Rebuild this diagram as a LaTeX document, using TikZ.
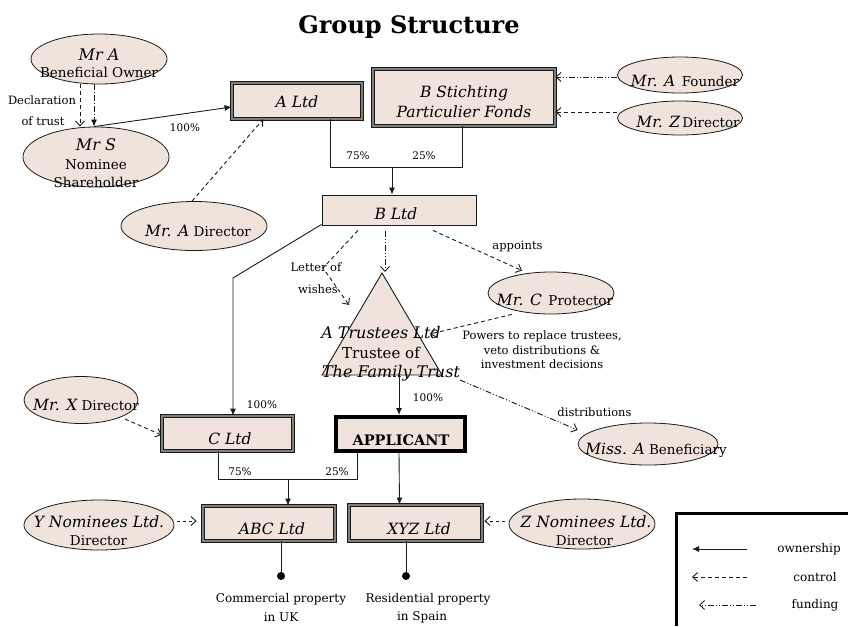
\documentclass[tikz,border=0pt]{standalone}
\usepackage{fontspec}
\setmainfont{DejaVu Serif}
\usetikzlibrary{shapes.geometric,arrows.meta}
\definecolor{boxfill}{HTML}{EFE3DC}
\definecolor{ink}{HTML}{1A1A1A}
\newcommand{\nm}[1]{{\fontsize{15.5}{17}\selectfont\itshape #1}}
\begin{document}
\begin{tikzpicture}[x=1pt,y=-1pt,
  ell/.style={ellipse, draw=ink, fill=boxfill, inner sep=0pt, line width=0.8pt},
  dbox/.style={rectangle, draw=black!90, double=black!50, double distance=1.4pt, line width=0.9pt, fill=boxfill, inner sep=0pt},
  sbox/.style={rectangle, draw=ink, fill=boxfill, line width=0.9pt, inner sep=0pt},
  abox/.style={rectangle, draw=black, fill=boxfill, line width=4pt, inner sep=0pt},
  big/.style={font=\fontsize{15.5}{17}\selectfont\itshape, inner sep=0pt},
  reg/.style={font=\fontsize{13.5}{15}\selectfont, inner sep=0pt},
  small/.style={font=\fontsize{11.5}{13}\selectfont, inner sep=0pt},
  pct/.style={font=\fontsize{10.5}{12}\selectfont, inner sep=0pt},
  own/.style={draw=ink, line width=0.9pt, -{Latex[length=7pt,width=6pt]}},
  ctl/.style={draw=ink, line width=0.9pt, dash pattern=on 4pt off 3pt, -{Straight Barb[length=5pt,width=9pt]}},
  fund/.style={draw=ink, line width=0.9pt, dash pattern=on 6pt off 2pt on 1pt off 2pt on 1pt off 2pt, -{Straight Barb[length=5pt,width=9pt]}},
  fundS/.style={draw=ink, line width=0.9pt, dash pattern=on 6pt off 2pt on 1pt off 2pt, -{Latex[length=7pt,width=6pt]}},
  line/.style={draw=ink, line width=0.9pt}
]
\useasboundingbox (0,0) rectangle (848,626);

% title
\node[font=\fontsize{24}{27}\selectfont\bfseries, inner sep=0pt] (title) at (409,27) {Group Structure};

% ---------- nodes ----------
\node[ell, minimum width=136pt, minimum height=50pt] (mrA) at (99,59) {};
\node[big, font=\fontsize{16}{18}\selectfont\itshape] (mrAt1) at (99,55) {Mr A};
\node[reg] (mrAt2) at (99,72) {Beneficial Owner};

\node[ell, minimum width=146pt, minimum height=60pt] (mrS) at (96,157) {};
\node[big, font=\fontsize{16}{18}\selectfont\itshape] (mrSt1) at (96,145) {Mr S};
\node[reg] (mrSt2) at (96,165) {Nominee};
\node[reg] (mrSt3) at (96,182) {Shareholder};

\node[small] (decl1) at (42,100) {Declaration};
\node[small] (decl2) at (43,121) {of trust};

\node[dbox, minimum width=130pt, minimum height=36pt] (aLtd) at (297,101) {};
\node[big] (aLtdt) at (297,102) {A Ltd};

\node[dbox, minimum width=182pt, minimum height=57pt] (bSt) at (464,97.5) {};
\node[big] (bStt1) at (464,93) {B Stichting};
\node[big] (bStt2) at (464,112) {Particulier Fonds};

\node[ell, minimum width=125pt, minimum height=36pt] (mrAF) at (680,75) {};
\node[reg] (mrAFt) at (685,81) {\nm{Mr. A}\, Founder};
\node[ell, minimum width=125pt, minimum height=34pt] (mrZ) at (680,118) {};
\node[reg] (mrZt) at (688,122) {\nm{Mr. Z}\,Director};

\node[sbox, minimum width=154pt, minimum height=30pt] (bLtd) at (399,210) {};
\node[big] (bLtdt) at (396,214) {B Ltd};

\node[ell, minimum width=146pt, minimum height=49pt] (mrAD) at (194,226) {};
\node[reg] (mrADt) at (198,231) {\nm{Mr. A} Director};

% triangle
\coordinate (trA) at (382,273);
\coordinate (trL) at (322,375);
\coordinate (trR) at (442,375);
\draw[line, fill=boxfill] (trA) -- (trR) -- (trL) -- cycle;
\node[big, font=\fontsize{16}{18}\selectfont\itshape] (trt1) at (381,333) {A Trustees Ltd};
\node[reg, font=\fontsize{15}{17}\selectfont] (trt2) at (381,353) {Trustee of};
\node[big, font=\fontsize{16}{18}\selectfont\itshape] (trt3) at (391,373) {The Family Trust};

\node[ell, minimum width=126pt, minimum height=42pt] (mrC) at (551,293) {};
\node[reg] (mrCt) at (555,300) {\nm{Mr. C}\, Protector};

\node[small, align=center, font=\fontsize{11.5}{14.5}\selectfont] (powers) at (542,350) {Powers to replace trustees,\\veto distributions \&\\investment decisions};

\node[ell, minimum width=140pt, minimum height=42pt] (missA) at (648,444) {};
\node[reg] (missAt) at (656,450) {\nm{Miss. A} Beneficiary};
\node[small] (distr) at (594.5,412) {distributions};

\node[ell, minimum width=114pt, minimum height=47pt] (mrX) at (81,400) {};
\node[reg] (mrXt) at (86,405) {\nm{Mr. X} Director};

\node[dbox, minimum width=131pt, minimum height=35pt] (cLtd) at (227.5,433.5) {};
\node[big] (cLtdt) at (230,439) {C Ltd};

\node[abox, minimum width=129pt, minimum height=34pt] (app) at (400,434) {};
\node[font=\fontsize{14.5}{16}\selectfont\bfseries, inner sep=0pt] (appt) at (401,440) {APPLICANT};

\node[dbox, minimum width=132pt, minimum height=35pt] (abc) at (269,523.5) {};
\node[big] (abct) at (272,529) {ABC Ltd};
\node[dbox, minimum width=133pt, minimum height=36pt] (xyz) at (415.5,523) {};
\node[big] (xyzt) at (419,529) {XYZ Ltd};

\node[ell, minimum width=150pt, minimum height=50pt] (yNom) at (99,525) {};
\node[big] (yNomt1) at (99,522) {Y Nominees Ltd.};
\node[reg] (yNomt2) at (98.5,541) {Director};
\node[ell, minimum width=146pt, minimum height=50pt] (zNom) at (582,524) {};
\node[big] (zNomt1) at (586,522) {Z Nominees Ltd.};
\node[reg] (zNomt2) at (584.5,541) {Director};

\node[circle, fill=black, inner sep=0pt, minimum size=8pt] (dot1) at (281,576) {};
\node[circle, fill=black, inner sep=0pt, minimum size=8pt] (dot2) at (406,576) {};
\node[small, font=\fontsize{12}{14}\selectfont] (prop1a) at (281,599) {Commercial property};
\node[small, font=\fontsize{12}{14}\selectfont] (prop1b) at (281,617.5) {in UK};
\node[small, font=\fontsize{12}{14}\selectfont] (prop2a) at (428,599) {Residential property};
\node[small, font=\fontsize{12}{14}\selectfont] (prop2b) at (422,617.5) {in Spain};

% percentages
\node[pct] (p1) at (185,128) {100\%};
\node[pct] (p2) at (358,156) {75\%};
\node[pct] (p3) at (424,156) {25\%};
\node[pct] (p4) at (262,405) {100\%};
\node[pct] (p5) at (428,398) {100\%};
\node[pct] (p6) at (240,472) {75\%};
\node[pct] (p7) at (337,472) {25\%};

\node[small] (lw1) at (316,267) {Letter of};
\node[small] (lw2) at (318,289) {wishes};
\node[small] (appoints) at (517.5,246) {appoints};

% ---------- connectors ----------
\draw[ctl] ([xshift=-19pt]mrA.south) -- ([xshift=-16pt]mrS.north);
\draw[fundS] ([xshift=-5pt]mrA.south) -- ([xshift=-2pt]mrS.north);
\draw[own] ([xshift=-2pt]mrS.north) -- ([yshift=-6pt]aLtd.west);
\draw[ctl] ([xshift=-2pt]mrAD.north) -- ([xshift=-34pt]aLtd.south);

\draw[fund] ([yshift=-2pt]mrAF.west) -- ([yshift=20.5pt]bSt.east);
\draw[ctl] ([yshift=6pt]mrZ.west) -- ([yshift=-14.5pt]bSt.east);

\coordinate (j1) at (392,167);
\draw[line] ([xshift=33pt]aLtd.south) -- ++(0,48) -- ++(132,0) -- ([xshift=-2pt]bSt.south);
\draw[own] (j1) -- (j1 |- bLtd.north);

\coordinate (bend1) at (233,278);
\draw[own] ([yshift=1pt]bLtd.south west) -- (bend1) -- ([xshift=5.5pt]cLtd.north);

\coordinate (bend2) at (323,268);
\coordinate (lwEnd) at (349,305);
\draw[ctl] ([xshift=-41pt,yshift=-5pt]bLtd.south) -- (bend2) -- (lwEnd);
\draw[fund] ([xshift=-14pt,yshift=-6pt]bLtd.south) -- ([xshift=3pt,yshift=1pt]trA);
\draw[ctl] ([xshift=34pt,yshift=-5pt]bLtd.south) -- ([xshift=-29pt,yshift=1pt]mrC.north);

\coordinate (pwEnd) at (430,334);
\draw[ctl] ([xshift=-39pt]mrC.south) -- (pwEnd);

\coordinate (dsStart) at (460,380);
\draw[fund] (dsStart) -- ([yshift=14pt]missA.west);

\coordinate (trB) at (399,375);
\draw[own] (trB) -- (trB |- app.north);

\draw[ctl] ([xshift=44pt,yshift=-19pt]mrX.center) -- ([yshift=-1.5pt]cLtd.west);

\coordinate (j2) at (288,479);
\draw[line] ([xshift=-9.5pt]cLtd.south) -- ++(0,28) -- ++(139,0) -- ([xshift=-43pt]app.south);
\draw[own] (j2) -- ([xshift=19pt]abc.north);
\draw[own] ([xshift=-1pt]app.south) -- ([xshift=-16pt]xyz.north);

\draw[ctl, dash pattern=on 3pt off 3pt] ([xshift=3pt,yshift=4pt]yNom.east) -- ([xshift=-6pt,yshift=2.5pt]abc.west);
\draw[ctl, dash pattern=on 3pt off 3pt] ([xshift=-4pt,yshift=3pt]zNom.west) -- ([xshift=2pt,yshift=2pt]xyz.east);

\draw[line] (dot1 |- abc.south) -- (dot1);
\draw[line] (dot2 |- xyz.south) -- (dot2);

% ---------- legend ----------
\draw[line width=3pt, draw=black] (676,626) -- (676,513) -- (848,513);
\coordinate (l1a) at (747,549); \coordinate (l1b) at (692,549);
\coordinate (l2a) at (747,577); \coordinate (l2b) at (692,577);
\coordinate (l3a) at (756,605); \coordinate (l3b) at (699,605);
\draw[own] (l1a) -- (l1b);
\draw[ctl] (l2a) -- (l2b);
\draw[fund] (l3a) -- (l3b);
\node[small, font=\fontsize{12}{14}\selectfont] (lg1) at (809,549) {ownership};
\node[small, font=\fontsize{12}{14}\selectfont] (lg2) at (815,577) {control};
\node[small, font=\fontsize{12}{14}\selectfont] (lg3) at (815,605) {funding};
\end{tikzpicture}
\end{document}
